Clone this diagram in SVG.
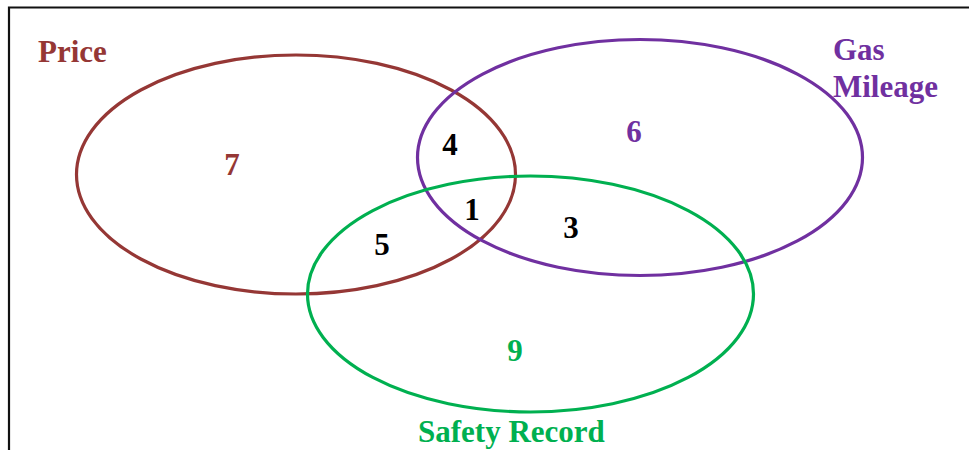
<svg xmlns="http://www.w3.org/2000/svg" width="969" height="450" viewBox="0 0 969 450">
<style>
  .t{font-family:"Liberation Serif","Times New Roman",serif;font-weight:bold;font-size:31px}
  .e{fill:none;stroke-width:3.2}
  .brown{fill:#953735}.purple{fill:#7030A0}.green{fill:#00B050}.black{fill:#000}
</style>
<rect width="969" height="450" fill="#fff"/>
<g id="frame">
  <path d="M9,450 V7.5 H969" fill="none" stroke="#111" stroke-width="2.2"/>
</g>
<g id="price">
  <ellipse class="e" cx="296" cy="174.5" rx="219.5" ry="119.5" stroke="#953735"/>
  <text class="t brown" x="38" y="62">Price</text>
  <text class="t brown" x="232" y="175" text-anchor="middle">7</text>
</g>
<g id="gas-mileage">
  <ellipse class="e" cx="640" cy="157.5" rx="222.5" ry="118" stroke="#7030A0"/>
  <text class="t purple" x="833" y="60">Gas</text>
  <text class="t purple" x="833" y="97">Mileage</text>
  <text class="t purple" x="634" y="142" text-anchor="middle">6</text>
</g>
<g id="safety-record">
  <ellipse class="e" cx="530.5" cy="294" rx="223" ry="118" stroke="#00B050"/>
  <text class="t green" x="418" y="442">Safety Record</text>
  <text class="t green" x="515" y="361" text-anchor="middle">9</text>
</g>
<g id="overlaps">
  <text class="t black" x="450" y="155" text-anchor="middle">4</text>
  <text class="t black" x="472" y="220" text-anchor="middle">1</text>
  <text class="t black" x="382" y="255" text-anchor="middle">5</text>
  <text class="t black" x="571" y="238" text-anchor="middle">3</text>
</g>
<g id="connectors"></g>
</svg>
